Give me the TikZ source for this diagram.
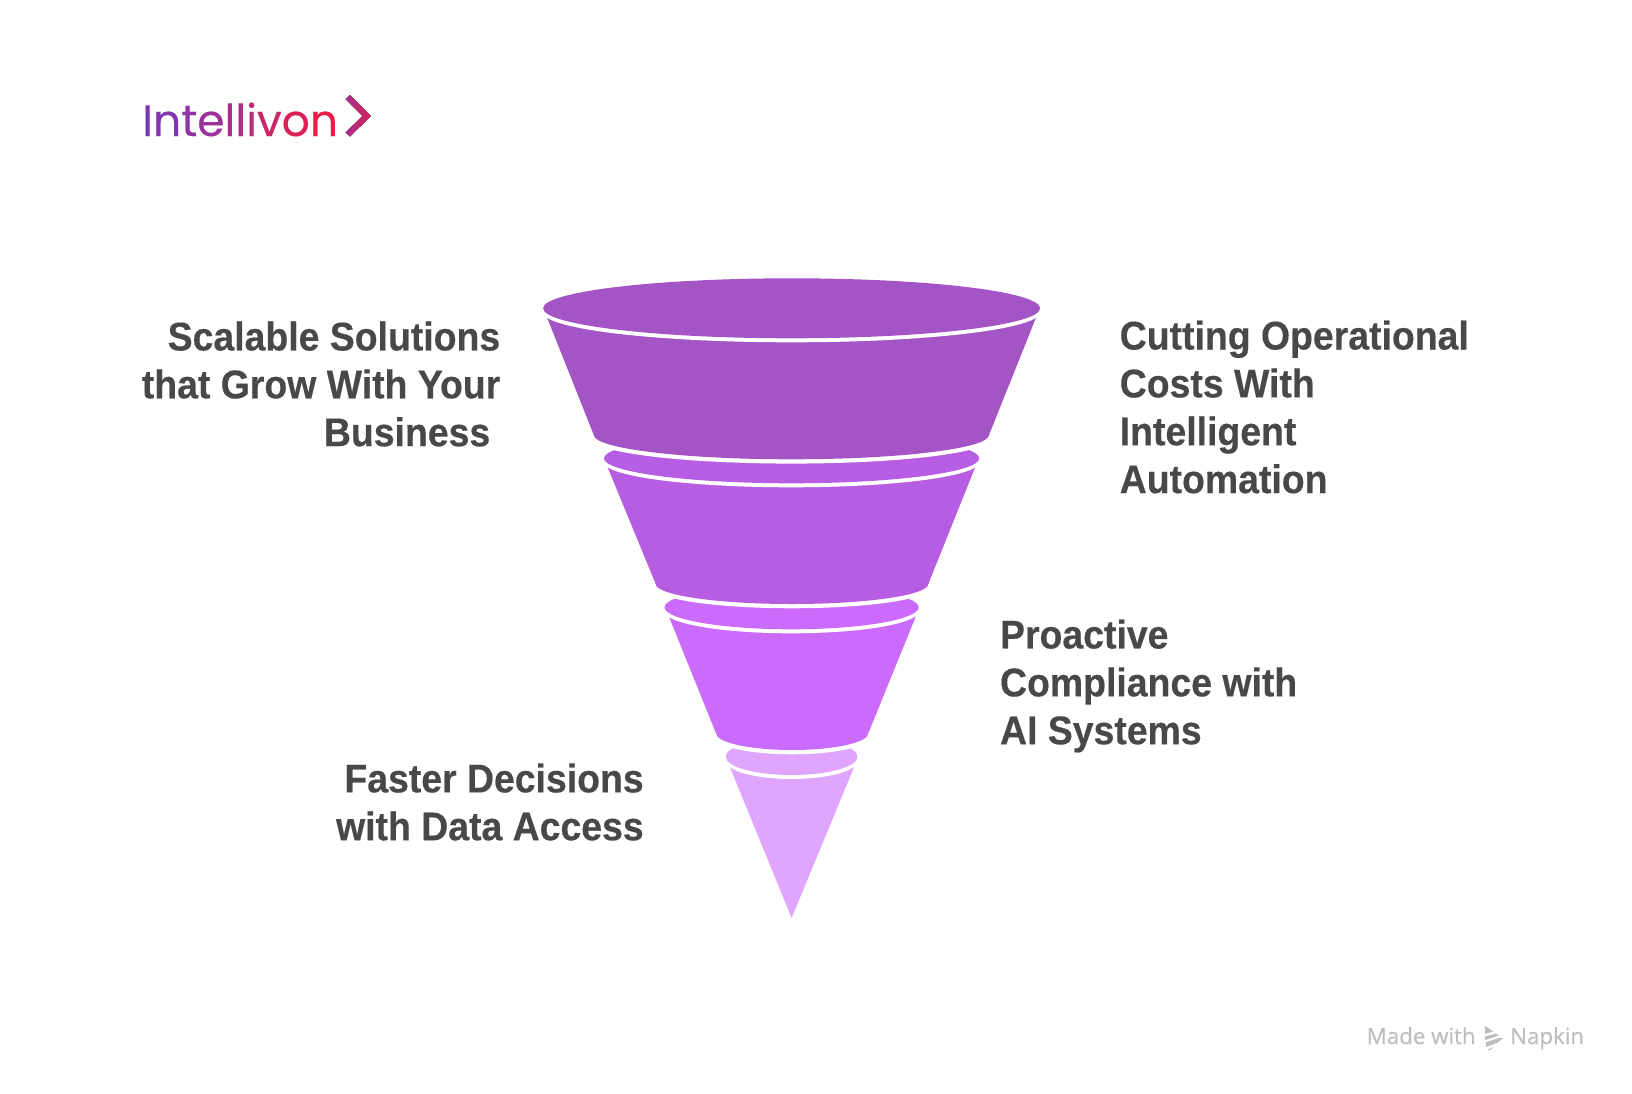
\documentclass[tikz,border=0pt]{standalone}
\usepackage{fontspec}
\setmainfont{Liberation Sans}
\newfontfamily\labfont{Liberation Sans}[FakeStretch=0.935,FakeBold=0.35]
\newfontfamily\logofont{Poppins}[FakeBold=0.25]
\newfontfamily\footfont{Open Sans}[FakeBold=0.2]
\definecolor{tierA}{HTML}{A355C6}
\definecolor{tierB}{HTML}{B75DE3}
\definecolor{tierC}{HTML}{CB6BFB}
\definecolor{tierD}{HTML}{E0A5FF}
\definecolor{labelgray}{HTML}{484848}
\definecolor{footgray}{HTML}{BDBDBD}
\definecolor{chevA}{HTML}{A8308C}
\definecolor{chevB}{HTML}{D8205B}
\newcommand{\lc}[2]{\textcolor[HTML]{#1}{#2}}
\newcommand{\funnelbody}[8]{%
  \pgfmathsetmacro\cxx{(#5+#6)/2}%
  \pgfmathsetmacro\ya{#7+0.5523*#8}%
  \pgfmathsetmacro\yb{#7+#8}%
  \pgfmathsetmacro\xa{\cxx-0.5523*(#6-#5)/2}%
  \pgfmathsetmacro\xb{\cxx+0.5523*(#6-#5)/2}%
  \path[tier,fill=#1] (#2,#4) -- (#5,#7) .. controls (#5,\ya) and (\xa,\yb) .. (\cxx,\yb)
    .. controls (\xb,\yb) and (#6,\ya) .. (#6,#7) -- (#3,#4) -- cycle;}
\newcommand{\rimellipse}[4]{%
  \path[fill=white] (791.6,{#2+4}) ellipse [x radius=#3,y radius=#4];
  \path[fill=#1] (791.6,#2) ellipse [x radius=#3,y radius=#4];}
\tikzset{
  tier/.style={preaction={draw=white,line width=6.4pt,line join=round}},
  lab/.style={text=labelgray,font=\labfont\fontsize{30}{35.9}\selectfont\bfseries,inner sep=0pt},
  foot/.style={text=footgray,font=\footfont\fontsize{16.7}{20}\selectfont,inner sep=0pt}
}
\begin{document}
\begin{tikzpicture}[x=0.75pt,y=-0.75pt]
\useasboundingbox (0,0) rectangle (1632,1093);
\fill[white] (0,0) rectangle (1632,1093);
% funnel, bottom layer first
\path[fill=tierD] (730,767.3) -- (791.6,918) -- (854,767.3) -- cycle;
\rimellipse{tierD}{756.7}{66}{18.3}
\funnelbody{tierC}{669}{915.7}{616.7}{716}{868.3}{733.3}{16.7}
\rimellipse{tierC}{607.3}{127}{22}
\funnelbody{tierB}{607.4}{975.4}{466.7}{655.7}{928.3}{584}{20}
\rimellipse{tierB}{458.3}{187.6}{25}
\funnelbody{tierA}{546.7}{1036.4}{316.7}{593.8}{989}{435}{24.3}
\rimellipse{tierA}{308.3}{248.5}{30}
% labels
\node[lab,anchor=east,align=right] (scalable) at (500.5,384)
  {Scalable Solutions\\that Grow With Your\\Business\hspace*{7.5pt}};
\node[lab,anchor=west,align=left] (cutting) at (1119.5,407)
  {Cutting Operational\\Costs With\\Intelligent\\Automation};
\node[lab,anchor=west,align=left] (proactive) at (999.8,686)
  {Proactive\\Compliance with\\AI Systems};
\node[lab,anchor=east,align=right] (faster) at (644,802)
  {Faster Decisions\\with Data Access};
% logo
\node[anchor=base west,inner sep=0pt,font=\logofont\fontsize{33}{36}\selectfont] (logo) at (142,136)
  {\lc{7B35B5}{I}\lc{8335AE}{n}\lc{8E34A4}{t}\lc{9B329A}{e}\lc{A83088}{l}\lc{B02C80}{l}\lc{BC2874}{i}\lc{C92567}{v}\lc{D82256}{o}\lc{E81E48}{n}};
\fill[left color=chevA,right color=chevB]
  (345.5,99) -- (350,95) -- (371,116) -- (350,136.5) -- (345.5,132.5) -- (362.5,116) -- cycle;
% footer
\node[foot,anchor=base west] (made) at (1366.5,1044) {Made with};
\node[foot,anchor=base west] (napkin) at (1510,1044) {Napkin};
\fill[footgray] (1485,1026) -- (1493.5,1031.5) -- (1485,1034) -- cycle;
\fill[footgray] (1485,1036.5) -- (1496,1033.5) -- (1499,1035.5) -- (1485,1040) -- cycle;
\fill[footgray] (1485.5,1042.5) -- (1500,1037.5) -- (1503,1038.5) -- (1497,1043) -- (1486,1047) -- cycle;
\fill[footgray] (1488,1049.5) -- (1494,1047) -- (1489,1050.5) -- cycle;
\end{tikzpicture}
\end{document}
